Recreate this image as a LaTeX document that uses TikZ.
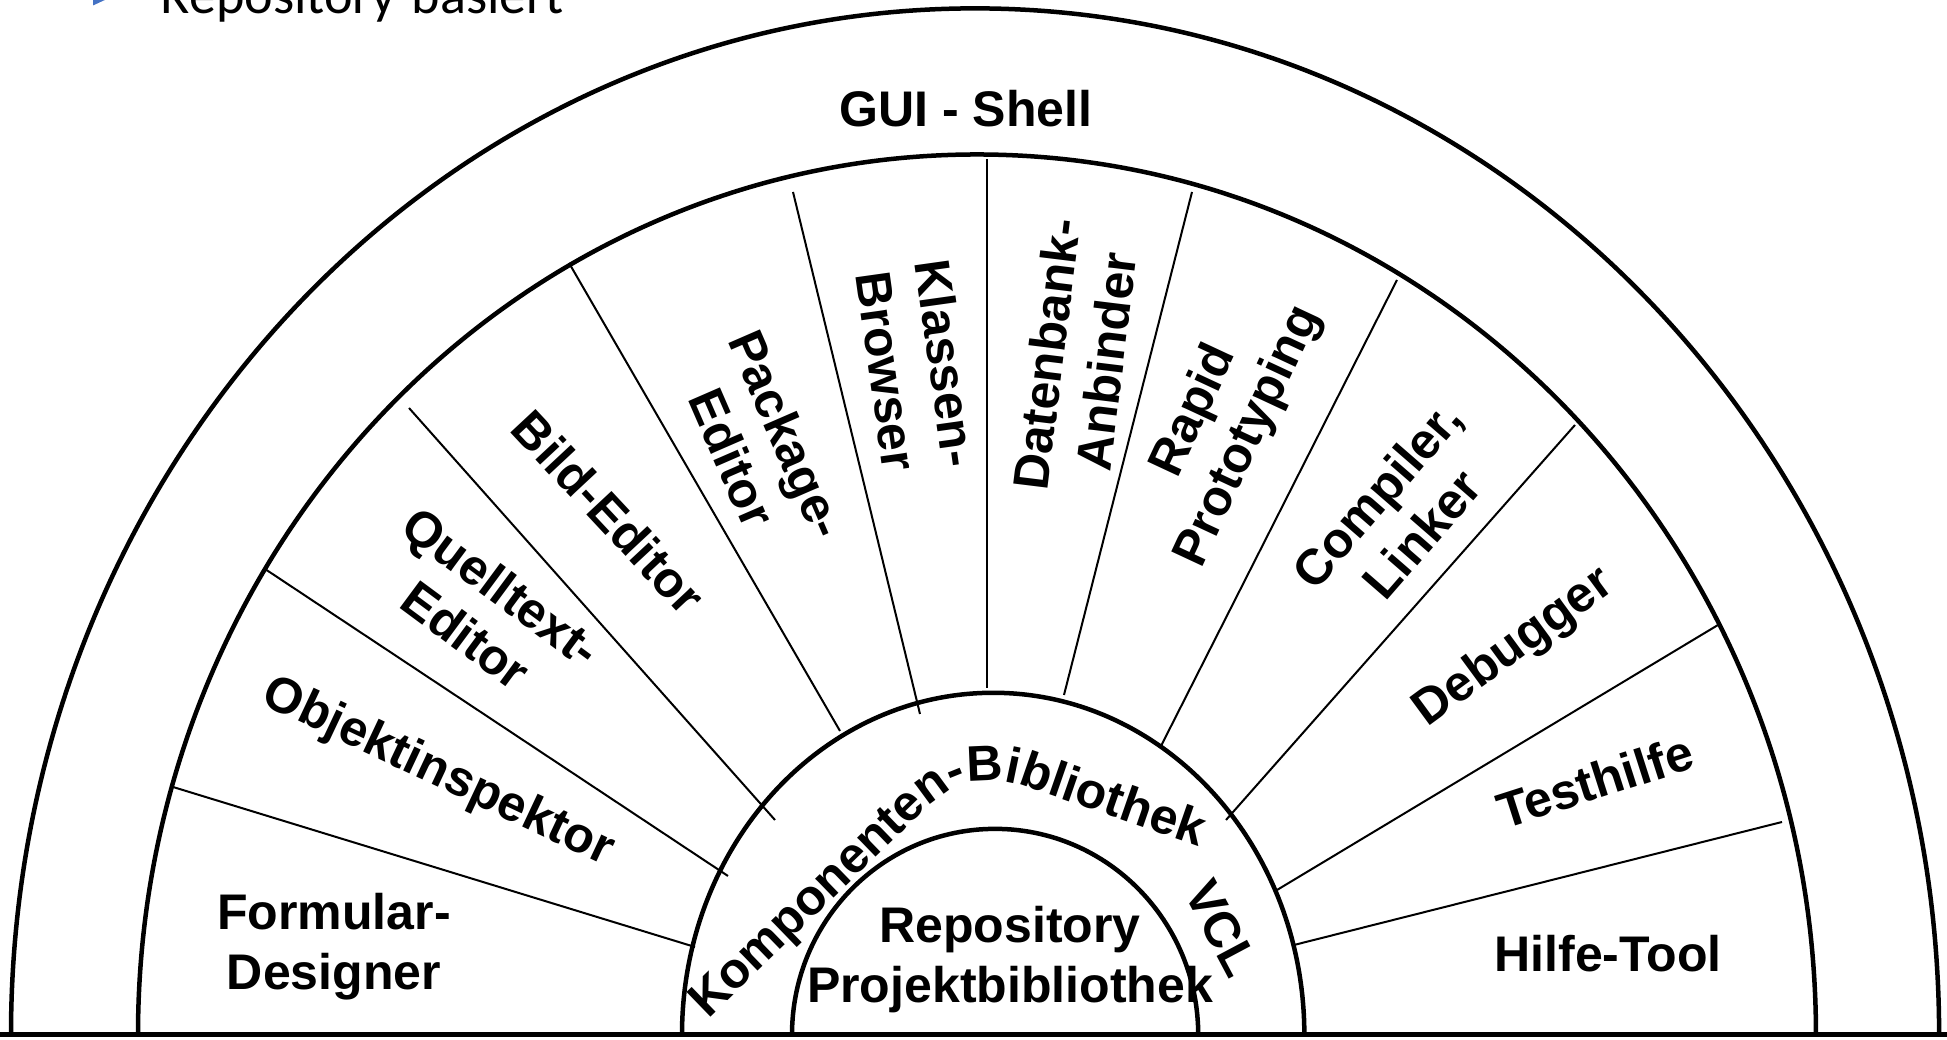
\documentclass[tikz,border=0pt]{standalone}
\usepackage{fontspec}
\setmainfont{Liberation Sans}
\newfontfamily\hdrfont{Carlito}
\usetikzlibrary{decorations.text}
\definecolor{bulletblue}{RGB}{68,114,196}
\newcommand{\lblfont}{\bfseries\fontsize{14.23pt}{17.07pt}\selectfont}
\begin{document}
\begin{tikzpicture}[x=0.01cm,y=0.01cm,
  thickarc/.style={line width=0.045cm},
  baseline rule/.style={line width=0.05cm},
  spoke/.style={line width=0.02cm},
  lbl/.style={font=\lblfont, align=center, inner sep=0pt},
  lblone/.style={lbl, text depth=0pt}]
\useasboundingbox (0,0) rectangle (1947,1040);

% heading line above the diagram
\fill[bulletblue] (93,1053) -- (93,1034.5) -- (107,1041) -- cycle;
\node[anchor=base west, inner sep=0pt] (heading) at (160,1026.7)
  {\hdrfont\fontsize{15.4pt}{18pt}\selectfont Repository-basiert};

% base line
\draw[baseline rule] (0,5) -- (1947,5);

% nested half ellipses
\draw[thickarc] (11,5) arc[start angle=180, end angle=0, x radius=9.635cm, y radius=10.26cm];
\draw[thickarc] (138,5) arc[start angle=180, end angle=0, x radius=8.385cm, y radius=8.80cm];
\draw[thickarc] (682,5) arc[start angle=180, end angle=0, x radius=3.11cm, y radius=3.42cm];
\draw[thickarc] (792,5) arc[start angle=180, end angle=0, x radius=2.03cm, y radius=2.06cm];

% spokes between the tool sectors
\draw[spoke] (173,253) -- (695,93);
\draw[spoke] (265,471) -- (728,164);
\draw[spoke] (409,632) -- (775,220);
\draw[spoke] (569,777) -- (840,309);
\draw[spoke] (793,848) -- (920,326);
\draw[spoke] (987,881) -- (987,352);
\draw[spoke] (1192,848) -- (1064,345);
\draw[spoke] (1397,760) -- (1161,294);
\draw[spoke] (1575,615) -- (1226,220);
\draw[spoke] (1718,415) -- (1277,150);
\draw[spoke] (1782,218) -- (1294,95);

% ring and sector labels
\node[lblone] (shell) at (966,932) {GUI - Shell};
\node[lbl] (formular) at (334,93) {Formular-\\Designer};
\node[lblone, rotate=-25.2] (objekt) at (440,272) {Objektinspektor};
\node[lbl, rotate=-36.5] (quell) at (484,429) {Quelltext-\\Editor};
\node[lblone, rotate=-47] (bild) at (609,528) {Bild-Editor};
\node[lbl, rotate=-66.5] (package) at (760,594) {Package-\\Editor};
\node[lbl, rotate=-82] (klassen) at (917,673) {Klassen-\\Browser};
\node[lbl, rotate=83] (daten) at (1076,682) {Datenbank-\\Anbinder};
\node[lbl, rotate=65] (rapid) at (1222,616) {Rapid\\Prototyping};
\node[lbl, rotate=49] (compiler) at (1399,526) {Compiler,\\Linker};
\node[lblone, rotate=36.3] (debugger) at (1511,396) {Debugger};
\node[lblone, rotate=17.75] (testhilfe) at (1595,259) {Testhilfe};
\node[lblone] (hilfe) at (1608,86.5) {Hilfe-Tool};
\node[lblone, rotate=-62] (vcl) at (1222,112) {VCL};
\node[lbl] (repo) at (1010,80.5) {Repository\\Projektbibliothek};

% curved label of the component ring
\path[decorate, decoration={text along path, text align=left,
    text={|\lblfont|Komponenten-Bibliothek}}]
  (708,20) -- (925,230) .. controls (957,261) and (987.5,266.8) .. (1030,252) -- (1200,193);
\end{tikzpicture}
\end{document}
